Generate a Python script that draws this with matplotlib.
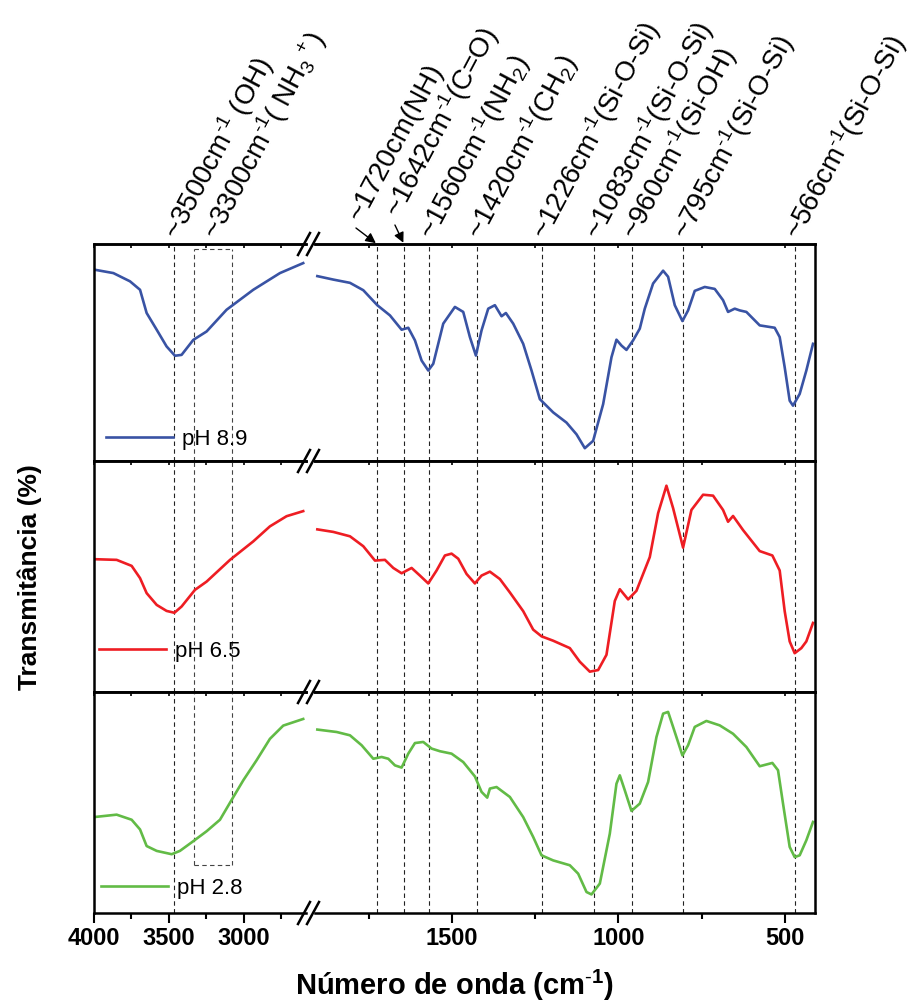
import numpy as np
import matplotlib
matplotlib.use("Agg")
import matplotlib.pyplot as plt
from matplotlib.lines import Line2D
from matplotlib.ticker import NullFormatter

plt.rcParams['font.family'] = ['Liberation Sans', 'DejaVu Sans']
plt.rcParams['mathtext.fontset'] = 'custom'
plt.rcParams['mathtext.rm'] = 'Liberation Sans'
plt.rcParams['mathtext.it'] = 'Liberation Sans:italic'
plt.rcParams['mathtext.bf'] = 'Liberation Sans:bold'

# espectros FTIR (transmitancia em unidades arbitrarias, 0-100 dentro de cada painel)
ph89_wn = [4000, 3871, 3760, 3693, 3649, 3582, 3516, 3460, 3416, 3338, 3249, 3116, 2938, 2760, 2605,
           1904, 1856, 1806, 1766, 1724, 1686, 1651, 1631, 1611, 1591, 1571, 1556, 1526, 1491, 1466,
           1446, 1428, 1411, 1391, 1371, 1351, 1338, 1316, 1286, 1261, 1236, 1196, 1156, 1126, 1101,
           1076, 1046, 1021, 1006, 991, 976, 956, 936, 921, 896, 866, 851, 831, 808, 791, 771, 741,
           711, 686, 671, 651, 636, 616, 576, 531, 516, 501, 486, 476, 456, 436, 416]
ph89_t = [88.2, 86.6, 82.8, 78.9, 68.2, 60.5, 52.8, 48.5, 48.9, 55.8, 59.7, 69.7, 78.9, 86.6, 91.2,
          85.2, 83.6, 82.1, 78.7, 71.8, 67.1, 60.5, 61.4, 55.6, 46.3, 41.7, 44.8, 63.3, 71.0, 68.7,
          57.1, 48.6, 60.2, 70.2, 71.8, 66.7, 68.2, 63.3, 54.0, 41.7, 28.5, 22.4, 17.7, 12.3, 5.9,
          9.3, 26.2, 47.8, 55.9, 53.2, 51.2, 55.6, 61.0, 70.2, 81.8, 87.7, 84.9, 71.8, 64.5, 69.4, 78.4, 80.2,
          79.3, 74.1, 68.7, 70.2, 69.4, 68.7, 62.5, 61.4, 57.1, 43.2, 27.8, 25.5, 30.9, 41.7, 54.0]

ph65_wn = [4000, 3849, 3749, 3693, 3649, 3582, 3516, 3464, 3416, 3327, 3249, 3093, 2938, 2827, 2716, 2605,
           1904, 1856, 1806, 1766, 1731, 1701, 1676, 1651, 1621, 1596, 1571, 1546, 1521, 1501, 1481,
           1456, 1431, 1411, 1386, 1356, 1326, 1286, 1256, 1231, 1196, 1146, 1116, 1086, 1061, 1036,
           1011, 996, 971, 946, 906, 881, 856, 836, 806, 781, 746, 716, 686, 671, 656, 626, 576, 538,
           516, 501, 486, 471, 451, 436, 416]
ph65_t = [57.5, 57.2, 54.6, 49.3, 42.8, 37.7, 35.1, 34.3, 37.0, 44.2, 47.8, 57.2, 65.2, 71.7, 76.1, 78.3,
          70.4, 69.3, 67.4, 63.1, 56.9, 57.2, 53.7, 51.4, 53.7, 50.4, 47.0, 52.6, 59.1, 59.9, 57.7,
          51.1, 47.0, 50.4, 52.1, 48.9, 43.1, 35.0, 27.0, 24.1, 22.2, 19.0, 13.1, 8.8, 9.5, 16.1,
          39.4, 44.5, 40.1, 43.8, 58.4, 77.4, 89.3, 79.6, 62.5, 78.8, 85.4, 85.0, 78.8, 73.7, 76.2, 70.1, 61.0, 59.1,
          52.6, 35.0, 21.9, 16.8, 19.0, 21.9, 29.9]

ph28_wn = [4000, 3849, 3749, 3693, 3649, 3582, 3482, 3427, 3338, 3249, 3160, 3082, 3004, 2916, 2827, 2738, 2605,
           1904, 1846, 1806, 1771, 1736, 1711, 1691, 1671, 1651, 1631, 1611, 1586, 1561, 1536, 1501,
           1466, 1431, 1411, 1394, 1386, 1366, 1326, 1286, 1256, 1231, 1196, 1146, 1121, 1096, 1081,
           1056, 1026, 1006, 996, 981, 961, 936, 911, 886, 866, 851, 836, 808, 791, 771, 736, 696, 656,
           616, 576, 538, 521, 506, 486, 471, 456, 436, 416]
ph28_t = [43.4, 44.5, 42.2, 37.8, 30.3, 28.1, 26.6, 28.1, 32.5, 37.0, 42.2, 51.2, 60.1, 69.1, 78.8, 84.8, 87.8,
          83.0, 81.9, 80.4, 75.9, 69.8, 70.6, 69.8, 66.8, 65.8, 72.1, 76.9, 77.4, 74.4, 73.2, 72.1,
          68.3, 61.8, 54.8, 52.2, 56.3, 57.0, 52.5, 43.4, 34.4, 26.1, 23.8, 21.6, 17.8, 9.5, 8.4,
          13.3, 35.9, 58.5, 62.3, 55.5, 46.2, 49.5, 59.3, 79.6, 90.2, 91.0, 84.2, 71.3, 75.9, 84.2, 86.9, 84.9, 81.1,
          75.1, 66.4, 67.9, 64.6, 49.5, 29.9, 25.3, 26.1, 32.9, 41.2]

series_labels = ['pH 8.9', 'pH 6.5', 'pH 2.8']
series_colors = ['#3953A4', '#EE1D23', '#62BB46']

# bandas marcadas
band_labels = [r'~3500cm$^{\text{-}1}$ (OH)', r'~3300cm$^{\text{-}1}$( NH$_3$$^+$)', '~1720cm(NH)',
               r'~1642cm$^{\text{-}1}$(C=O)', r'~1560cm$^{\text{-}1}$(NH$_2$)', r'~1420cm$^{\text{-}1}$(CH$_2$)',
               r'~1226cm$^{\text{-}1}$(Si-O-Si)', r'~1083cm$^{\text{-}1}$(Si-O-Si)', r'~960cm$^{\text{-}1}$(Si-OH)',
               r'~795cm$^{\text{-}1}$(Si-O-Si)', r'~566cm$^{\text{-}1}$(Si-O-Si)']
band_pos = [3465, 3210, 1725, 1644, 1569, 1425, 1230, 1072, 960, 806, 470]
right_lines = [1725, 1644, 1569, 1425, 1230, 1072, 960, 806, 470]
oh_line = 3465
box_wn = [3335, 3082]

W, H = 912, 1008
LEFT_LIM = (4000, 2583)
RIGHT_LIM = (1911, 410)


def px_rect(x0, x1, y0, y1):
    return [x0 / W, 1 - y1 / H, (x1 - x0) / W, (y1 - y0) / H]


fig = plt.figure(figsize=(W / 100, H / 100), dpi=100)
rows = [(244, 461), (461, 692), (692, 913)]
dash = (0, (4, 3))
lw_spine = 1.8

axes_rows = []
for i, (y0, y1) in enumerate(rows):
    axl = fig.add_axes(px_rect(94, 306.5, y0, y1))
    axr = fig.add_axes(px_rect(315, 815, y0, y1))
    last = i == len(rows) - 1
    for ax, lim, majors, minors in [(axl, LEFT_LIM, [4000, 3500, 3000], [3750, 3250, 2750]),
                                    (axr, RIGHT_LIM, [1500, 1000, 500], [1750, 1250, 750])]:
        ax.set_xlim(*lim)
        ax.set_ylim(0, 100)
        ax.set_yticks([])
        ax.set_xticks(majors)
        ax.set_xticks(minors, minor=True)
        for s in ax.spines.values():
            s.set_linewidth(lw_spine)
        if last:
            ax.tick_params(axis='x', which='major', direction='out', length=7, width=1.5,
                           labelsize=17, pad=3)
            ax.tick_params(axis='x', which='minor', direction='out', length=4, width=1.5)
            for lab in ax.get_xticklabels():
                lab.set_fontweight('bold')
        else:
            ax.tick_params(axis='x', which='both', bottom=False, labelbottom=False)
        sec = ax.secondary_xaxis('top')
        sec.set_xticks(majors)
        sec.set_xticks(minors, minor=True)
        sec.xaxis.set_major_formatter(NullFormatter())
        sec.tick_params(axis='x', which='both', direction='in', length=3, width=1.2)
        sec.spines['top'].set_linewidth(lw_spine)
    axl.spines['right'].set_visible(False)
    axr.spines['left'].set_visible(False)
    axes_rows.append((axl, axr))

all_series = [(ph89_wn, ph89_t), (ph65_wn, ph65_t), (ph28_wn, ph28_t)]
leg_anchor = [(0.057, 0.101), (0.024, 0.177), (0.033, 0.113)]

for i, ((wn, t), (axl, axr)) in enumerate(zip(all_series, axes_rows)):
    wn = np.array(wn)
    t = np.array(t)
    left = wn >= LEFT_LIM[1]
    ln, = axl.plot(wn[left], t[left], color=series_colors[i], lw=1.9, label=series_labels[i])
    axr.plot(wn[~left], t[~left], color=series_colors[i], lw=1.9)
    axl.legend(handles=[ln], loc='center left', bbox_to_anchor=leg_anchor[i], frameon=False,
               handlelength=3.0, handletextpad=0.4, borderpad=0, borderaxespad=0, fontsize=16)

    # linhas tracejadas
    for w in right_lines:
        axr.axvline(w, color='#222222', lw=0.8, ls=dash, zorder=1)
    axl.axvline(oh_line, color='#222222', lw=0.8, ls=dash, zorder=1)
    ymin, ymax = 0, 1
    if i == 0:
        ymax = 0.977
        axl.plot(box_wn, [97.7, 97.7], color='#444444', lw=0.8, ls=dash)
    if i == 2:
        ymin = 0.216
        axl.plot(box_wn, [21.6, 21.6], color='#444444', lw=0.8, ls=dash)
    for w in box_wn:
        axl.axvline(w, ymin=ymin, ymax=ymax, color='#444444', lw=0.8, ls=dash, zorder=1)

# marcas de quebra do eixo
for yb in [244, 461, 692, 913]:
    for cx in [304, 313]:
        fig.add_artist(Line2D([(cx - 6) / W, (cx + 6) / W], [1 - (yb + 11) / H, 1 - (yb - 11) / H],
                              color='k', lw=1.8, transform=fig.transFigure))

# anotacoes das bandas
axl0, axr0 = axes_rows[0]
offsets = {'~1720cm(NH)': (-16, 22), r'~1642cm$^{\text{-}1}$(C=O)': (-4, 25)}
for lab, w in zip(band_labels, band_pos):
    ax = axl0 if w > LEFT_LIM[1] else axr0
    off = offsets.get(lab, (5, 3))
    ax.annotate(lab, xy=(w, 1), xycoords=('data', 'axes fraction'), xytext=off,
                textcoords='offset pixels', rotation=62, rotation_mode='anchor',
                ha='left', va='baseline', fontsize=20, annotation_clip=False)
    if lab in offsets:
        ax.annotate('', xy=(w, 1), xycoords=('data', 'axes fraction'),
                    xytext=(off[0] - 5, off[1] - 6), textcoords='offset pixels',
                    arrowprops=dict(arrowstyle='-|>', color='k', lw=1.0, shrinkA=0, shrinkB=1,
                                    mutation_scale=15),
                    annotation_clip=False)

fig.text(30 / W, 1 - 577 / H, 'Transmitância (%)', rotation=90, ha='center', va='center',
         fontsize=19, fontweight='bold')
fig.text(455 / W, 1 - 985 / H, r'Número de onda (cm$^{\mathbf{\text{-}1}}$)', ha='center', va='center',
         fontsize=21, fontweight='bold')

fig.savefig('out.png', dpi=100)
